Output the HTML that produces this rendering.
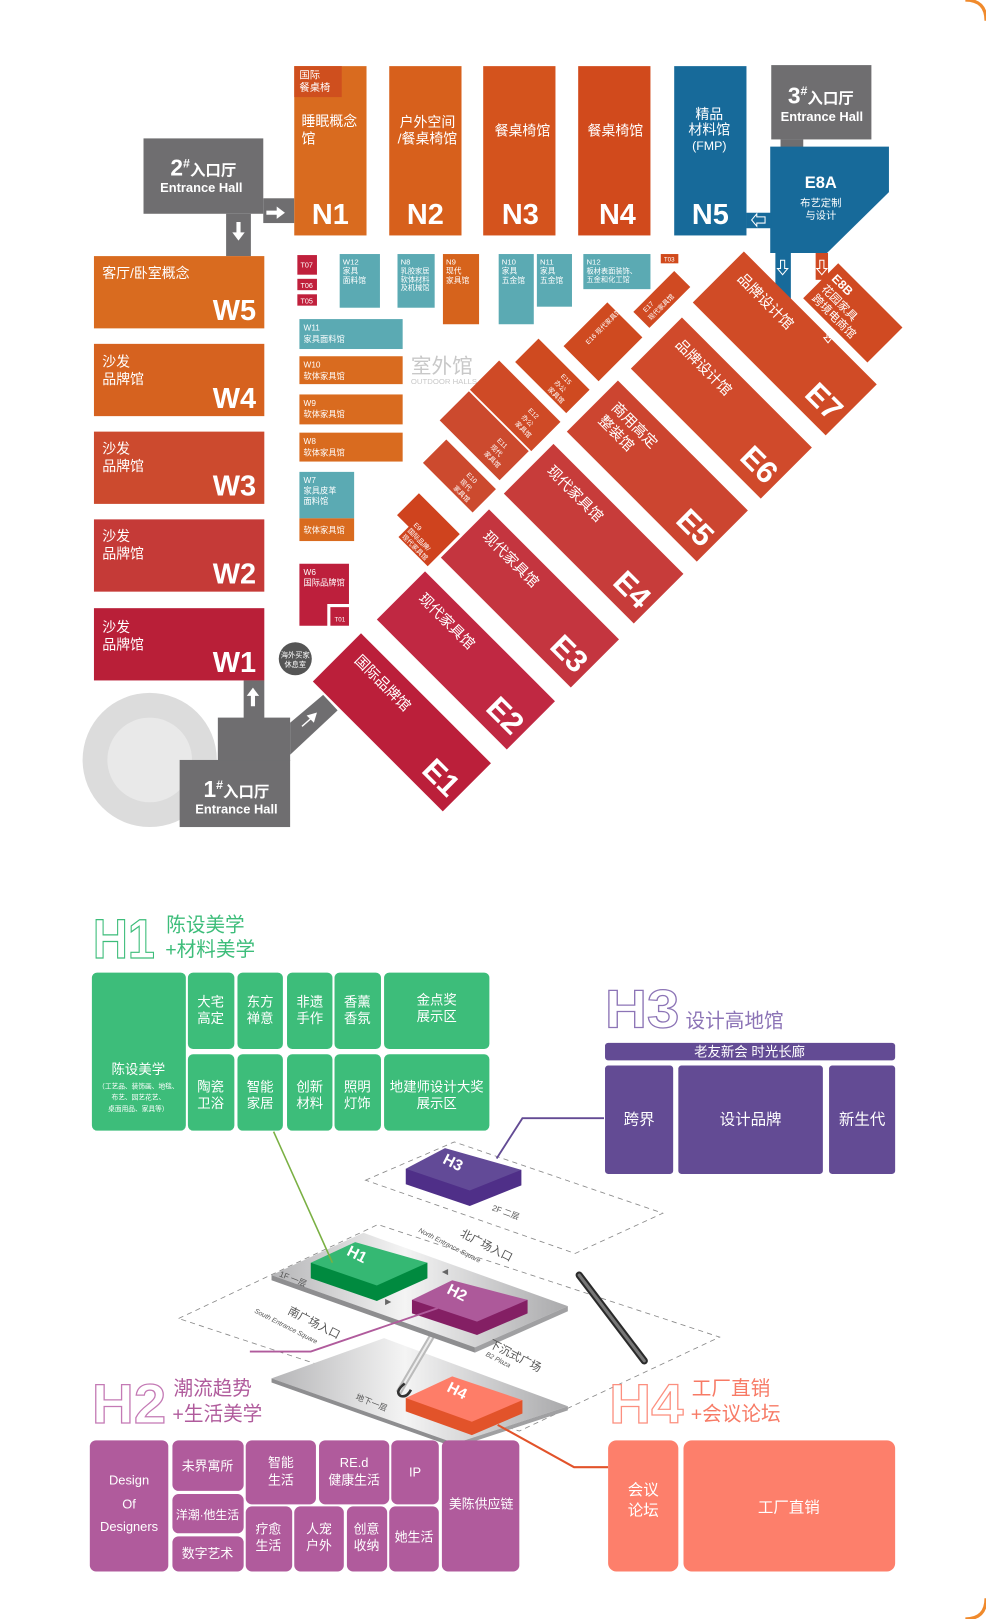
<!DOCTYPE html>
<html><head><meta charset="utf-8"><style>
html,body{margin:0;padding:0;background:#fff}
svg{display:block}
text{font-family:"Liberation Sans","Noto Sans CJK SC",sans-serif}
</style></head><body>
<svg width="986" height="1619" viewBox="0 0 955 1568" xmlns="http://www.w3.org/2000/svg">
<rect x="0" y="0" width="955" height="1568" fill="#fff"/>
<path d="M935,0 Q955,0 955,20" fill="none" stroke="#f08a2c" stroke-width="3"/>
<path d="M955,1548 Q955,1568 935,1568" fill="none" stroke="#f08a2c" stroke-width="3"/>

<!-- ===== TOP MAP ===== -->
<g fill="#fff">
<!-- 2# entrance -->
<rect x="139" y="134" width="116" height="73" fill="#6f6e70"/>
<rect x="219" y="207" width="24" height="41" fill="#6f6e70"/>
<rect x="255" y="192" width="30" height="24" fill="#6f6e70"/>
<text x="197" y="170" font-size="22" font-weight="bold" text-anchor="middle">2<tspan font-size="12" dy="-8">#</tspan><tspan font-size="15" dy="8">入口厅</tspan></text>
<text x="195" y="186" font-size="12.5" font-weight="bold" text-anchor="middle">Entrance Hall</text>
<path d="M258,204 h10 v-4 l8,6 l-8,6 v-4 h-10z"/>
<path d="M229,215 v10 h-4 l6,8 l6,-8 h-4 v-10z"/>

<!-- N halls -->
<rect x="285" y="64" width="70" height="164" fill="#d96b1f"/>
<rect x="285" y="64" width="46" height="30" fill="#cf4f1e"/>
<text x="290" y="76" font-size="10">国际</text><text x="290" y="88" font-size="10">餐桌椅</text>
<text x="292" y="122" font-size="13.5">睡眠概念</text><text x="292" y="139" font-size="13.5">馆</text>
<text x="320" y="217" font-size="28" font-weight="bold" text-anchor="middle">N1</text>

<rect x="377" y="64" width="70" height="164" fill="#d7601c"/>
<text x="414" y="123" font-size="13.5" text-anchor="middle">户外空间</text><text x="414" y="139" font-size="13.5" text-anchor="middle">/餐桌椅馆</text>
<text x="412" y="217" font-size="28" font-weight="bold" text-anchor="middle">N2</text>

<rect x="468" y="64" width="70" height="164" fill="#d4531d"/>
<text x="506" y="131" font-size="13.5" text-anchor="middle">餐桌椅馆</text>
<text x="504" y="217" font-size="28" font-weight="bold" text-anchor="middle">N3</text>

<rect x="560" y="64" width="70" height="164" fill="#d14a1c"/>
<text x="596" y="131" font-size="13.5" text-anchor="middle">餐桌椅馆</text>
<text x="598" y="217" font-size="28" font-weight="bold" text-anchor="middle">N4</text>

<rect x="653" y="64" width="70" height="164" fill="#176a9a"/>
<text x="687" y="115" font-size="13.5" text-anchor="middle">精品</text>
<text x="687" y="130" font-size="13.5" text-anchor="middle">材料馆</text>
<text x="687" y="145" font-size="12" text-anchor="middle">(FMP)</text>
<text x="688" y="217" font-size="28" font-weight="bold" text-anchor="middle">N5</text>

<!-- 3# entrance + E8A -->
<rect x="747" y="63" width="97" height="72" fill="#6f6e70"/>
<rect x="756" y="135" width="22" height="8" fill="#6f6e70"/>
<text x="795" y="100" font-size="22" font-weight="bold" text-anchor="middle">3<tspan font-size="12" dy="-8">#</tspan><tspan font-size="15" dy="8">入口厅</tspan></text>
<text x="796" y="117" font-size="12.5" font-weight="bold" text-anchor="middle">Entrance Hall</text>
<polygon points="746,142 861,142 861,186 801,245 746,245" fill="#176a9a"/>
<rect x="723" y="206" width="24" height="15" fill="#176a9a"/>
<rect x="751" y="245" width="15" height="45" fill="#176a9a"/>
<rect x="790" y="245" width="12" height="26" fill="#d04a22"/>
<text x="795" y="182" font-size="16" font-weight="bold" text-anchor="middle">E8A</text>
<text x="795" y="200" font-size="10" text-anchor="middle">布艺定制</text>
<text x="795" y="212" font-size="10" text-anchor="middle">与设计</text>
<path d="M741,210 h-8 v-3 l-5,6 l5,6 v-3 h8z" fill="none" stroke="#fff" stroke-width="1"/>
<path d="M756,252 v8 h-3 l5,6 l5,-6 h-3 v-8z" fill="none" stroke="#fff" stroke-width="1"/>
<path d="M794,252 v8 h-3 l5,6 l5,-6 h-3 v-8z" fill="none" stroke="#fff" stroke-width="1"/>

<!-- W halls -->
<rect x="91" y="248" width="165" height="70" fill="#d96b1f"/>
<text x="99" y="269" font-size="13.5">客厅/卧室概念</text>
<text x="248" y="310" font-size="28" font-weight="bold" text-anchor="end">W5</text>
<rect x="91" y="333" width="165" height="70" fill="#d6621f"/>
<text x="99" y="355" font-size="13.5">沙发</text><text x="99" y="372" font-size="13.5">品牌馆</text>
<text x="248" y="395" font-size="28" font-weight="bold" text-anchor="end">W4</text>
<rect x="91" y="418" width="165" height="70" fill="#cc4a2e"/>
<text x="99" y="439" font-size="13.5">沙发</text><text x="99" y="456" font-size="13.5">品牌馆</text>
<text x="248" y="480" font-size="28" font-weight="bold" text-anchor="end">W3</text>
<rect x="91" y="503" width="165" height="70" fill="#c53a37"/>
<text x="99" y="524" font-size="13.5">沙发</text><text x="99" y="541" font-size="13.5">品牌馆</text>
<text x="248" y="565" font-size="28" font-weight="bold" text-anchor="end">W2</text>
<rect x="91" y="589" width="165" height="70" fill="#b91f38"/>
<text x="99" y="612" font-size="13.5">沙发</text><text x="99" y="629" font-size="13.5">品牌馆</text>
<text x="248" y="651" font-size="28" font-weight="bold" text-anchor="end">W1</text>

<!-- small halls -->
<rect x="288" y="247" width="19" height="19" fill="#c0203c"/><text x="291" y="259" font-size="7">T07</text>
<rect x="288" y="270" width="19" height="11" fill="#c0203c"/><text x="291" y="279" font-size="7">T06</text>
<rect x="288" y="285" width="19" height="11" fill="#c0203c"/><text x="291" y="294" font-size="7">T05</text>
<rect x="329" y="246" width="39" height="52" fill="#5baab3"/>
<text x="332" y="256" font-size="7.5">W12</text><text x="332" y="265" font-size="7.5">家具</text><text x="332" y="274" font-size="7.5">面料馆</text>
<rect x="385" y="246" width="36" height="52" fill="#5baab3"/>
<text x="388" y="256" font-size="7.5">N8</text><text x="388" y="265" font-size="7">乳胶家居</text><text x="388" y="273" font-size="7">软体材料</text><text x="388" y="281" font-size="7">及机械馆</text>
<rect x="429" y="246" width="35" height="68" fill="#d6631c"/>
<text x="432" y="256" font-size="7.5">N9</text><text x="432" y="265" font-size="7.5">现代</text><text x="432" y="274" font-size="7.5">家具馆</text>
<rect x="483" y="246" width="34" height="68" fill="#5baab3"/>
<text x="486" y="256" font-size="7.5">N10</text><text x="486" y="265" font-size="7.5">家具</text><text x="486" y="274" font-size="7.5">五金馆</text>
<rect x="520" y="246" width="34" height="51" fill="#5baab3"/>
<text x="523" y="256" font-size="7.5">N11</text><text x="523" y="265" font-size="7.5">家具</text><text x="523" y="274" font-size="7.5">五金馆</text>
<rect x="565" y="246" width="65" height="34" fill="#5baab3"/>
<text x="568" y="256" font-size="7.5">N12</text><text x="568" y="265" font-size="7">板材表面装饰、</text><text x="568" y="273" font-size="7">五金和化工馆</text>
<rect x="640" y="246" width="17" height="9" fill="#d14a1c"/><text x="643" y="253" font-size="6">T03</text>

<rect x="290" y="309" width="100" height="29" fill="#5baab3"/>
<text x="294" y="320" font-size="8">W11</text><text x="294" y="331" font-size="8">家具面料馆</text>
<rect x="290" y="345" width="100" height="27" fill="#d96b1f"/>
<text x="294" y="356" font-size="8">W10</text><text x="294" y="367" font-size="8">软体家具馆</text>
<rect x="290" y="382" width="100" height="29" fill="#d96b1f"/>
<text x="294" y="393" font-size="8">W9</text><text x="294" y="404" font-size="8">软体家具馆</text>
<rect x="290" y="419" width="100" height="28" fill="#d96b1f"/>
<text x="294" y="430" font-size="8">W8</text><text x="294" y="441" font-size="8">软体家具馆</text>
<rect x="290" y="457" width="53" height="45" fill="#5baab3"/>
<rect x="290" y="502" width="53" height="22" fill="#d96b1f"/>
<text x="294" y="468" font-size="8">W7</text><text x="294" y="478" font-size="8">家具皮革</text><text x="294" y="488" font-size="8">面料馆</text>
<text x="294" y="516" font-size="8">软体家具馆</text>
<path d="M290,546 h48 v39 h-21 v21 h-27z" fill="#bd1f3c"/>
<rect x="320" y="588" width="18" height="18" fill="#bd1f3c"/>
<text x="294" y="557" font-size="8">W6</text><text x="294" y="567" font-size="8">国际品牌馆</text>
<text x="324" y="602" font-size="6">T01</text>
<text x="398" y="361" font-size="20" fill="#c8c8c8">室外馆</text>
<text x="398" y="372" font-size="7.5" fill="#c8c8c8">OUTDOOR HALLS</text>

<!-- 1# entrance -->
<circle cx="145" cy="736" r="65" fill="#dcdcdc"/>
<circle cx="145" cy="736" r="41" fill="#e9e9e9"/>
<rect x="174" y="736" width="107" height="65" fill="#6f6e70"/>
<rect x="211" y="695" width="70" height="42" fill="#6f6e70"/>
<rect x="236" y="659" width="20" height="37" fill="#6f6e70"/>
<polygon points="281,700 313,673 327,688 281,731" fill="#6f6e70"/>
<path d="M243,684 v-10 h-4 l6,-8 l6,8 h-4 v10z"/>
<path d="M292,703 l8,-7 l-3,-3 l10,-3 l-3,10 l-3,-3 l-8,7z"/>
<text x="229" y="772" font-size="22" font-weight="bold" text-anchor="middle">1<tspan font-size="12" dy="-8">#</tspan><tspan font-size="15" dy="8">入口厅</tspan></text>
<text x="229" y="788" font-size="12.5" font-weight="bold" text-anchor="middle">Entrance Hall</text>
<circle cx="286" cy="638" r="16" fill="#555"/>
<text x="286" y="637" font-size="7" text-anchor="middle">海外买家</text>
<text x="286" y="646" font-size="7" text-anchor="middle">休息室</text>

<!-- E big halls: origin at left corner, rotate 45 -->
<g transform="translate(303,660) rotate(45)"><rect x="0" y="-66" width="178" height="66" fill="#bb1f3a"/>
<text x="14" y="-42" font-size="14">国际品牌馆</text><text x="172" y="-12" font-size="30" font-weight="bold" text-anchor="end">E1</text></g>
<g transform="translate(365,600) rotate(45)"><rect x="0" y="-66" width="178" height="66" fill="#c02842"/>
<text x="14" y="-42" font-size="14">现代家具馆</text><text x="172" y="-12" font-size="30" font-weight="bold" text-anchor="end">E2</text></g>
<g transform="translate(427,540) rotate(45)"><rect x="0" y="-66" width="178" height="66" fill="#c4353f"/>
<text x="14" y="-42" font-size="14">现代家具馆</text><text x="172" y="-12" font-size="30" font-weight="bold" text-anchor="end">E3</text></g>
<g transform="translate(488,478) rotate(45)"><rect x="0" y="-68" width="178" height="68" fill="#c73c3a"/>
<text x="14" y="-44" font-size="14">现代家具馆</text><text x="172" y="-12" font-size="30" font-weight="bold" text-anchor="end">E4</text></g>
<g transform="translate(549,418) rotate(45)"><rect x="0" y="-70" width="178" height="70" fill="#cc4530"/>
<text x="14" y="-46" font-size="14">商用高定</text><text x="14" y="-28" font-size="14">整装馆</text><text x="172" y="-12" font-size="30" font-weight="bold" text-anchor="end">E5</text></g>
<g transform="translate(611,357) rotate(45)"><rect x="0" y="-70" width="178" height="70" fill="#d04a2b"/>
<text x="14" y="-46" font-size="14">品牌设计馆</text><text x="172" y="-12" font-size="30" font-weight="bold" text-anchor="end">E6</text></g>
<g transform="translate(671,293) rotate(45)"><rect x="0" y="-70" width="182" height="70" fill="#d04b26"/>
<text x="14" y="-46" font-size="14">品牌设计馆</text><text x="176" y="-12" font-size="30" font-weight="bold" text-anchor="end">E7</text></g>
<!-- E8B -->
<g transform="translate(826,303) rotate(45)"><rect x="-44" y="-24" width="88" height="48" fill="#d04a22"/>
<text x="-38" y="-8" font-size="12" font-weight="bold">E8B</text><text x="-38" y="6" font-size="11">花园家具</text><text x="-38" y="19" font-size="11">跨境电商馆</text></g>
<path d="M801,320 v7 h-3 l4,5 l4,-5 h-3 v-7z" fill="none" stroke="#fff" stroke-width="1"/>
<!-- E small halls -->
<g transform="translate(410,513) rotate(45)"><path d="M-28,-22 h56 v44 h-40 v-14 h-16z" fill="#cf431e"/>
<text x="-10" y="4" font-size="6.5">E9</text><text x="-10" y="12" font-size="6.5">国际品牌/</text><text x="-10" y="20" font-size="6.5">现代家具馆</text></g>
<g transform="translate(445,461) rotate(45)"><rect x="-34" y="-16" width="68" height="32" fill="#cc4a2e"/>
<text x="4" y="-5" font-size="6.5">E10</text><text x="4" y="4" font-size="6.5">现代</text><text x="4" y="13" font-size="6.5">家具馆</text></g>
<g transform="translate(469,422) rotate(45)"><rect x="-41" y="-20" width="82" height="40" fill="#cc4a2e"/>
<text x="12" y="-5" font-size="6.5">E11</text><text x="12" y="4" font-size="6.5">现代</text><text x="12" y="13" font-size="6.5">家具馆</text></g>
<g transform="translate(499,393) rotate(45)"><rect x="-42" y="-20" width="84" height="40" fill="#cf4a26"/>
<text x="12" y="-5" font-size="6.5">E12</text><text x="12" y="4" font-size="6.5">办公</text><text x="12" y="13" font-size="6.5">家具馆</text></g>
<g transform="translate(535,364) rotate(45)"><rect x="-35" y="-16" width="70" height="32" fill="#cf4a20"/>
<text x="6" y="-5" font-size="6.5">E15</text><text x="6" y="4" font-size="6.5">办公</text><text x="6" y="13" font-size="6.5">家具馆</text></g>
<g transform="translate(584,331) rotate(45)"><rect x="-24" y="-30" width="48" height="60" fill="#cf4a20"/>
<text x="-8" y="12" font-size="6.5" transform="rotate(-90 -8 12)">E16 现代家具馆</text></g>
<g transform="translate(641,290) rotate(45)"><rect x="-11" y="-28" width="22" height="56" fill="#d04a22"/>
<text x="-2" y="20" font-size="6.5" transform="rotate(-90 -2 20)">E17</text><text x="7" y="22" font-size="6.5" transform="rotate(-90 7 22)">现代家具馆</text></g>
</g>

<!-- ===== BOTTOM SECTION ===== -->
<!-- H1 header -->
<text x="90" y="928" font-size="54" font-weight="bold" fill="#fff" stroke="#3dbd7a" stroke-width="1.2" textLength="60" lengthAdjust="spacingAndGlyphs">H1</text>
<text x="161" y="902" font-size="19" fill="#3dbd7a">陈设美学</text>
<text x="160" y="926" font-size="19" fill="#3dbd7a">+材料美学</text>
<g fill="#3dbd7a">
<rect x="89" y="942" width="91" height="153" rx="5"/>
<rect x="182" y="942" width="45" height="74" rx="5"/><rect x="230" y="942" width="44" height="74" rx="5"/>
<rect x="278" y="942" width="44" height="74" rx="5"/><rect x="324" y="942" width="45" height="74" rx="5"/>
<rect x="372" y="942" width="102" height="74" rx="5"/>
<rect x="182" y="1021" width="45" height="74" rx="5"/><rect x="230" y="1021" width="44" height="74" rx="5"/>
<rect x="278" y="1021" width="44" height="74" rx="5"/><rect x="324" y="1021" width="45" height="74" rx="5"/>
<rect x="372" y="1021" width="102" height="74" rx="5"/>
</g>
<g fill="#fff" font-size="13" text-anchor="middle">
<text x="134" y="1040">陈设美学</text>
<text x="134" y="1054" font-size="6.5">（工艺品、装饰画、地毯、</text>
<text x="134" y="1065" font-size="6.5">布艺、园艺花艺、</text>
<text x="134" y="1076" font-size="6.5">桌面用品、家具等）</text>
<text x="204" y="975">大宅</text><text x="204" y="991">高定</text>
<text x="252" y="975">东方</text><text x="252" y="991">禅意</text>
<text x="300" y="975">非遗</text><text x="300" y="991">手作</text>
<text x="346" y="975">香薰</text><text x="346" y="991">香氛</text>
<text x="423" y="973">金点奖</text><text x="423" y="989">展示区</text>
<text x="204" y="1057">陶瓷</text><text x="204" y="1073">卫浴</text>
<text x="252" y="1057">智能</text><text x="252" y="1073">家居</text>
<text x="300" y="1057">创新</text><text x="300" y="1073">材料</text>
<text x="346" y="1057">照明</text><text x="346" y="1073">灯饰</text>
<text x="423" y="1057">地建师设计大奖</text><text x="423" y="1073">展示区</text>
</g>

<!-- H3 header -->
<text x="586" y="995" font-size="52" font-weight="bold" fill="#fff" stroke="#8c74b6" stroke-width="1.2" textLength="72" lengthAdjust="spacingAndGlyphs">H3</text>
<text x="664" y="995" font-size="19" fill="#8c74b6">设计高地馆</text>
<g fill="#634b94">
<rect x="586" y="1010" width="281" height="17" rx="3"/>
<rect x="586" y="1032" width="66" height="105" rx="3"/>
<rect x="657" y="1032" width="140" height="105" rx="3"/>
<rect x="803" y="1032" width="64" height="105" rx="3"/>
</g>
<g fill="#fff" text-anchor="middle">
<text x="726" y="1023" font-size="13">老友新会 时光长廊</text>
<text x="619" y="1089" font-size="15">跨界</text>
<text x="727" y="1089" font-size="15">设计品牌</text>
<text x="835" y="1089" font-size="15">新生代</text>
</g>

<!-- iso: dashed floors -->
<g fill="none" stroke="#888" stroke-width="0.8" stroke-dasharray="5,4">
<polygon points="354,1143 440,1106 642,1175 557,1214"/>
<polygon points="173,1277 366,1186 697,1295 503,1386"/>
</g>
<defs>
<linearGradient id="pl" x1="0" y1="0" x2="1" y2="0">
<stop offset="0" stop-color="#b5b5b7"/><stop offset="0.45" stop-color="#f4f4f4"/><stop offset="1" stop-color="#a9a9ab"/></linearGradient>
</defs>
<!-- B1 plane -->
<polygon points="263,1335 372,1296 550,1362 441,1398" fill="url(#pl)"/>
<polygon points="263,1335 441,1398 441,1402 263,1339" fill="#8e8e90"/>
<polygon points="441,1398 550,1362 550,1366 441,1402" fill="#a0a0a2"/>
<!-- escalator gray -->
<line x1="419" y1="1293" x2="386" y2="1349" stroke="#bbb" stroke-width="6"/>
<line x1="419" y1="1293" x2="386" y2="1349" stroke="#eee" stroke-width="2"/>
<path d="M392,1340 q-10,8 -4,12 q6,2 10,-6" fill="none" stroke="#333" stroke-width="2.5"/>
<!-- 1F plane -->
<polygon points="263,1235 352,1194 550,1265 460,1305" fill="url(#pl)"/>
<polygon points="263,1235 460,1305 460,1310 263,1240" fill="#8e8e90"/>
<polygon points="460,1305 550,1265 550,1270 460,1310" fill="#a0a0a2"/>
<!-- dark escalator -->
<line x1="561" y1="1235" x2="624" y2="1318" stroke="#2a2a2a" stroke-width="7" stroke-linecap="round"/>
<line x1="561" y1="1235" x2="624" y2="1318" stroke="#777" stroke-width="3" stroke-linecap="round"/>

<!-- H3 box -->
<polygon points="393,1132 393,1147 455,1168 505,1148 505,1133" fill="#4f2f88"/>
<polygon points="393,1132 431,1112 505,1133 455,1153" fill="#624a97"/>
<text x="428" y="1126" font-size="15" font-weight="bold" fill="#fff" transform="rotate(27 428 1126)">H3</text>
<!-- H1 box -->
<polygon points="301,1223 301,1238 365,1260 414,1238 414,1223" fill="#008a3f"/>
<polygon points="301,1223 344,1203 414,1223 365,1245" fill="#35b873"/>
<text x="335" y="1215" font-size="15" font-weight="bold" fill="#fff" transform="rotate(27 335 1215)">H1</text>
<!-- H2 box -->
<polygon points="399,1259 399,1272 462,1293 511,1272 511,1259" fill="#841f64"/>
<polygon points="399,1259 438,1240 511,1259 462,1280" fill="#ad599a"/>
<text x="432" y="1252" font-size="15" font-weight="bold" fill="#fff" transform="rotate(27 432 1252)">H2</text>
<!-- H4 box -->
<polygon points="393,1354 393,1367 457,1390 506,1369 506,1356" fill="#e2532a"/>
<polygon points="393,1354 438,1333 506,1356 457,1377" fill="#fe7d68"/>
<text x="432" y="1347" font-size="15" font-weight="bold" fill="#fff" transform="rotate(27 432 1347)">H4</text>

<!-- iso labels -->
<g fill="#555" font-size="8">
<text x="476" y="1172" transform="rotate(20 476 1172)">2F 二层</text>
<text x="445" y="1197" font-size="11" transform="rotate(27 445 1197)">北广场入口</text>
<text x="405" y="1193" font-size="6.5" font-style="italic" transform="rotate(27 405 1193)">North Entrance Square</text>
<text x="270" y="1236" transform="rotate(22 270 1236)">1F 一层</text>
<text x="278" y="1272" font-size="11" transform="rotate(27 278 1272)">南广场入口</text>
<text x="246" y="1271" font-size="6.5" font-style="italic" transform="rotate(27 246 1271)">South Entrance Square</text>
<text x="473" y="1304" font-size="11" transform="rotate(27 473 1304)">下沉式广场</text>
<text x="470" y="1313" font-size="6.5" font-style="italic" transform="rotate(27 470 1313)">B2 Plaza</text>
<text x="344" y="1355" transform="rotate(22 344 1355)">地下一层</text>
</g>
<polygon points="428,1232 434,1229 434,1235" fill="#666"/>
<polygon points="379,1261 373,1258 373,1264" fill="#666"/>

<!-- connector lines -->
<polyline points="265,1096 322,1223" fill="none" stroke="#7ab043" stroke-width="1.5"/>
<polyline points="585,1083 506,1083 481,1122" fill="none" stroke="#634b94" stroke-width="1.8"/>
<polyline points="424,1267 301,1309 242,1309" fill="none" stroke="#b05b9c" stroke-width="1.8"/>
<polyline points="482,1380 556,1421 589,1421" fill="none" stroke="#e2532a" stroke-width="2"/>

<!-- H2 header -->
<text x="89" y="1378" font-size="54" font-weight="bold" fill="#fff" stroke="#c47ab5" stroke-width="1.2" textLength="72" lengthAdjust="spacingAndGlyphs">H2</text>
<text x="168" y="1351" font-size="19" fill="#b05b9c">潮流趋势</text>
<text x="167" y="1376" font-size="19" fill="#b05b9c">+生活美学</text>
<!-- H4 header -->
<text x="590" y="1378" font-size="54" font-weight="bold" fill="#fff" stroke="#fc8f7f" stroke-width="1.2" textLength="72" lengthAdjust="spacingAndGlyphs">H4</text>
<text x="670" y="1351" font-size="19" fill="#f77a65">工厂直销</text>
<text x="669" y="1376" font-size="19" fill="#f77a65">+会议论坛</text>

<g fill="#b05b9c">
<rect x="87" y="1395" width="76" height="127" rx="6"/>
<rect x="167" y="1395" width="69" height="49" rx="6"/>
<rect x="167" y="1447" width="69" height="38" rx="6"/>
<rect x="167" y="1488" width="69" height="34" rx="6"/>
<rect x="238" y="1395" width="68" height="62" rx="6"/>
<rect x="309" y="1395" width="68" height="62" rx="6"/>
<rect x="379" y="1395" width="46" height="62" rx="6"/>
<rect x="238" y="1459" width="45" height="63" rx="6"/>
<rect x="285" y="1459" width="48" height="63" rx="6"/>
<rect x="336" y="1459" width="39" height="63" rx="6"/>
<rect x="377" y="1459" width="48" height="63" rx="6"/>
<rect x="428" y="1395" width="75" height="127" rx="6"/>
</g>
<g fill="#fd7f6b">
<rect x="589" y="1395" width="68" height="127" rx="8"/>
<rect x="662" y="1395" width="205" height="127" rx="8"/>
</g>
<g fill="#fff" font-size="12.5" text-anchor="middle">
<text x="125" y="1438">Design</text><text x="125" y="1461">Of</text><text x="125" y="1483">Designers</text>
<text x="201" y="1424">未界寓所</text>
<text x="201" y="1471" font-size="11.5">洋潮·他生活</text>
<text x="201" y="1509">数字艺术</text>
<text x="272" y="1421">智能</text><text x="272" y="1438">生活</text>
<text x="343" y="1421">RE.d</text><text x="343" y="1438">健康生活</text>
<text x="402" y="1430">IP</text>
<text x="260" y="1485">疗愈</text><text x="260" y="1501">生活</text>
<text x="309" y="1485">人宠</text><text x="309" y="1501">户外</text>
<text x="355" y="1485">创意</text><text x="355" y="1501">收纳</text>
<text x="401" y="1493">她生活</text>
<text x="466" y="1461">美陈供应链</text>
<text x="623" y="1448" font-size="15">会议</text><text x="623" y="1468" font-size="15">论坛</text>
<text x="764" y="1465" font-size="15">工厂直销</text>
</g>
</svg>
</body></html>
